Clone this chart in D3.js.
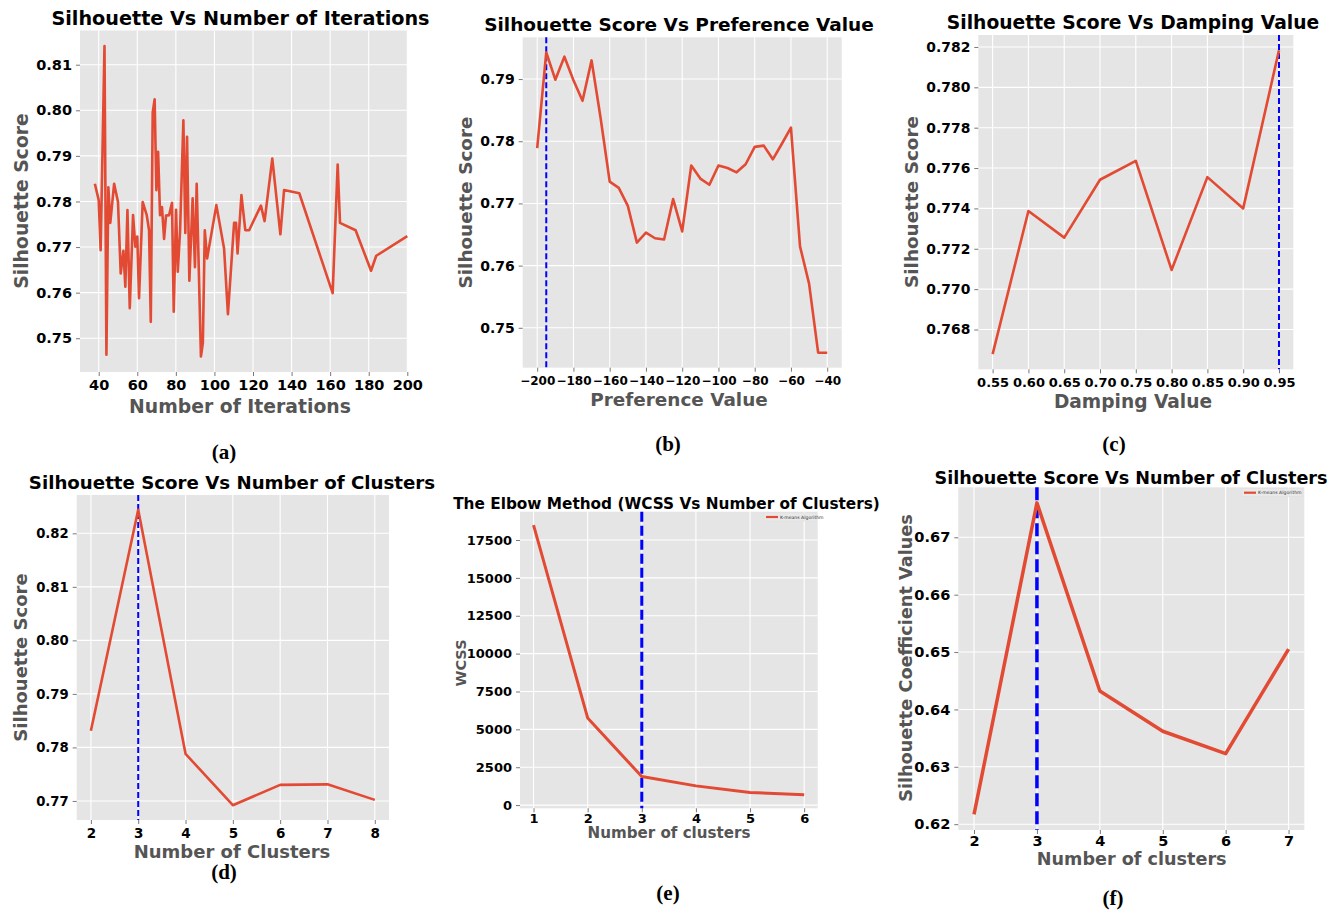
<!DOCTYPE html>
<html>
<head>
<meta charset="utf-8">
<script src="https://cdn.jsdelivr.net/npm/d3@7"></script>
<style>
  html, body { margin: 0; padding: 0; background: #ffffff; }
  svg { display: block; }
  text { font-family: "DejaVu Sans", sans-serif; }
  text.tag { font-family: "Liberation Serif", "Times New Roman", serif; }
</style>
</head>
<body>
<svg id="fig" width="1342" height="912"></svg>
<script>
// ---------- data ----------
// (a) silhouette score against number of iterations
const iterX = [38, 40, 41, 43, 44, 45, 46, 48, 50, 51.4, 52.8, 53.8, 54.9, 56.1, 57.8, 59, 60, 60.9, 62.8, 64.9,
  66.1, 67, 68, 69, 69.9, 70.8, 71.8, 72.8, 73.9, 74.9, 76.5, 78, 78.9, 80.1, 81, 82.2, 83.9, 84.9, 85.8, 87,
  88.7, 89.9, 90.8, 93, 94, 95, 96.2, 101, 105, 107, 110.2, 111.2, 112, 114, 116, 118, 124.1, 126, 130, 134.2,
  136.1, 144, 161.3, 163.9, 165.1, 173.2, 181.2, 183.9, 200];
const iterScore = [0.7839, 0.7803, 0.7693, 0.8141, 0.7464, 0.7831, 0.7753, 0.7839, 0.7799, 0.7642, 0.7692, 0.7613,
  0.7781, 0.7566, 0.7770, 0.7701, 0.7723, 0.7588, 0.7799, 0.7770, 0.7737, 0.7536, 0.7996, 0.8024, 0.7825, 0.7909,
  0.7770, 0.7788, 0.7718, 0.7769, 0.7770, 0.7797, 0.7558, 0.7782, 0.7646, 0.7737, 0.7978, 0.7731, 0.7942, 0.7626,
  0.7807, 0.7656, 0.7839, 0.7460, 0.7490, 0.7737, 0.7675, 0.7792, 0.7697, 0.7553, 0.7753, 0.7753, 0.7686, 0.7814,
  0.7737, 0.7737, 0.7791, 0.7757, 0.7894, 0.7728, 0.7825, 0.7818, 0.7599, 0.7881, 0.7753, 0.7737, 0.7648, 0.7681,
  0.7724];

// (b) silhouette score against preference value
const prefX = [-200, -195, -190, -185, -180, -175, -170, -165, -160, -155, -150, -145, -140, -135, -130, -125, -120,
  -115, -110, -105, -100, -95, -90, -85, -80, -75, -70, -65, -60, -55, -50, -45, -40];
const prefScore = [0.7789, 0.7943, 0.7899, 0.7936, 0.7898, 0.7865, 0.7930, 0.7837, 0.7735, 0.7725, 0.7696, 0.7637,
  0.7653, 0.7644, 0.7642, 0.7707, 0.7655, 0.7761, 0.7740, 0.7730, 0.7761, 0.7757, 0.7750, 0.7763, 0.7791, 0.7793,
  0.7771, 0.7796, 0.7822, 0.7631, 0.7571, 0.7460, 0.7460];
const prefBest = -195;

// (c) silhouette score against damping value
const dampX = [0.55, 0.60, 0.65, 0.70, 0.75, 0.80, 0.85, 0.90, 0.95];
const dampScore = [0.76678, 0.77387, 0.77255, 0.77542, 0.77636, 0.77095, 0.77555, 0.77400, 0.78184];
const dampBest = 0.95;

// (d) silhouette score against number of clusters
const clustX = [2, 3, 4, 5, 6, 7, 8];
const clustScore = [0.7831, 0.8244, 0.7788, 0.7692, 0.7730, 0.7731, 0.7702];
const clustBest = 3;

// (e) elbow method
const elbowX = [1, 2, 3, 4, 5, 6];
const elbowWcss = [18480, 5754, 1881, 1269, 831, 678];
const elbowBest = 3;

// (f) k-means silhouette coefficient
const kmX = [2, 3, 4, 5, 6, 7];
const kmScore = [0.6217, 0.6760, 0.6432, 0.6362, 0.6323, 0.6505];
const kmBest = 3;

// tick values
const iterTicksX = [40, 60, 80, 100, 120, 140, 160, 180, 200];
const iterTicksY = [0.75, 0.76, 0.77, 0.78, 0.79, 0.80, 0.81];
const prefTicksX = [-200, -180, -160, -140, -120, -100, -80, -60, -40];
const prefTicksY = [0.75, 0.76, 0.77, 0.78, 0.79];
const dampTicksX = [0.55, 0.60, 0.65, 0.70, 0.75, 0.80, 0.85, 0.90, 0.95];
const dampTicksY = [0.768, 0.770, 0.772, 0.774, 0.776, 0.778, 0.780, 0.782];
const clustTicksX = [2, 3, 4, 5, 6, 7, 8];
const clustTicksY = [0.77, 0.78, 0.79, 0.80, 0.81, 0.82];
const elbowTicksX = [1, 2, 3, 4, 5, 6];
const elbowTicksY = [0, 2500, 5000, 7500, 10000, 12500, 15000, 17500];
const kmTicksX = [2, 3, 4, 5, 6, 7];
const kmTicksY = [0.62, 0.63, 0.64, 0.65, 0.66, 0.67];

// ---------- drawing ----------
const svg = d3.select("#fig");
const LINE = "#E24A33";
const BG = "#E5E5E5";
const minus = s => s.replace("-", "\u2212");

// padded extent, like a default plotting margin of 5%
function padded(vals, frac) {
  const [a, b] = d3.extent(vals);
  const p = (b - a) * frac;
  return [a - p, b + p];
}

function panel(o) {
  const g = svg.append("g");
  const x = d3.scaleLinear().domain(o.xDomain).range([o.left, o.right]);
  const y = d3.scaleLinear().domain(o.yDomain).range([o.bottom, o.top]);

  g.append("rect")
    .attr("x", o.left).attr("y", o.top)
    .attr("width", o.right - o.left).attr("height", o.bottom - o.top)
    .attr("fill", BG);

  // grid
  g.append("g").selectAll("line").data(o.xTicks).join("line")
    .attr("x1", d => x(d)).attr("x2", d => x(d))
    .attr("y1", o.top).attr("y2", o.bottom)
    .attr("stroke", "#ffffff").attr("stroke-width", 1.1);
  g.append("g").selectAll("line").data(o.yTicks).join("line")
    .attr("x1", o.left).attr("x2", o.right)
    .attr("y1", d => y(d)).attr("y2", d => y(d))
    .attr("stroke", "#ffffff").attr("stroke-width", 1.1);

  // axes
  const xa = g.append("g").attr("transform", `translate(0,${o.bottom})`)
    .call(d3.axisBottom(x).tickValues(o.xTicks).tickSize(4).tickPadding(o.xPad).tickFormat(o.xFmt));
  const ya = g.append("g").attr("transform", `translate(${o.left},0)`)
    .call(d3.axisLeft(y).tickValues(o.yTicks).tickSize(4).tickPadding(4).tickFormat(o.yFmt));
  [xa, ya].forEach(a => {
    a.select(".domain").remove();
    a.selectAll(".tick line").attr("stroke", "#555555").attr("stroke-width", 0.8);
    a.selectAll(".tick text").attr("fill", "#000000").attr("font-weight", "bold");
  });
  xa.selectAll(".tick text").attr("font-size", o.xFont);
  ya.selectAll(".tick text").attr("font-size", o.yFont);

  // best-value marker
  if (o.best !== undefined) {
    g.append("line")
      .attr("x1", x(o.best)).attr("x2", x(o.best))
      .attr("y1", o.top).attr("y2", o.bottom)
      .attr("stroke", "#0000FF").attr("stroke-width", o.dashW)
      .attr("stroke-dasharray", o.dash);
  }

  // series
  const pts = o.xs.map((v, i) => [v, o.ys[i]]);
  g.append("path")
    .datum(pts)
    .attr("d", d3.line().x(d => x(d[0])).y(d => y(d[1])))
    .attr("fill", "none").attr("stroke", LINE)
    .attr("stroke-width", o.lineW).attr("stroke-linejoin", "round");

  // legend
  if (o.legend) {
    const L = o.legend;
    g.append("rect").attr("x", L.x - 2).attr("y", L.y - 4).attr("width", L.w).attr("height", 8)
      .attr("fill", "#e9e9e9").attr("stroke", "#dddddd").attr("stroke-width", 0.4);
    g.append("line").attr("x1", L.x).attr("x2", L.x + 12).attr("y1", L.y).attr("y2", L.y)
      .attr("stroke", LINE).attr("stroke-width", 2.2);
    g.append("text").attr("x", L.x + 14).attr("y", L.y + 1.6)
      .attr("font-size", 4.6).attr("fill", "#333333").text("K-means Algorithm");
  }

  // title
  g.append("text").attr("x", o.title.x).attr("y", o.title.y)
    .attr("text-anchor", "middle").attr("font-weight", "bold")
    .attr("font-size", o.title.size).attr("fill", "#000000").text(o.title.text);

  // axis labels
  g.append("text").attr("x", o.xLabel.x).attr("y", o.xLabel.y)
    .attr("text-anchor", "middle").attr("font-weight", "bold")
    .attr("font-size", o.xLabel.size).attr("fill", "#555555").text(o.xLabel.text);
  g.append("text")
    .attr("transform", `translate(${o.yLabel.x},${o.yLabel.y}) rotate(-90)`)
    .attr("text-anchor", "middle").attr("font-weight", "bold")
    .attr("font-size", o.yLabel.size).attr("fill", "#555555").text(o.yLabel.text);

  // sub-figure tag
  g.append("text").attr("class", "tag").attr("x", o.tag.x).attr("y", o.tag.y)
    .attr("text-anchor", "middle").attr("font-weight", "bold")
    .attr("font-size", 21).attr("fill", "#000000").text(o.tag.text);
}

// (a)
panel({
  left: 80, right: 407.3, top: 30.5, bottom: 372,
  xs: iterX, ys: iterScore,
  xDomain: [30.3, 200], yDomain: padded(iterScore, 0.05),
  xTicks: iterTicksX, yTicks: iterTicksY,
  xFmt: d3.format("d"), yFmt: d3.format(".2f"),
  xFont: 14.5, yFont: 14.5, xPad: 4, lineW: 2.6,
  title: { x: 240.5, y: 25, size: 19.2, text: "Silhouette Vs Number of Iterations" },
  xLabel: { x: 240, y: 413, size: 18.8, text: "Number of Iterations" },
  yLabel: { x: 27.5, y: 201, size: 18.8, text: "Silhouette Score" },
  tag: { x: 224, y: 459, text: "(a)" }
});

// (b)
panel({
  left: 522.7, right: 841.7, top: 37.3, bottom: 367.7,
  xs: prefX, ys: prefScore,
  xDomain: padded(prefX, 0.05), yDomain: padded(prefScore, 0.05),
  xTicks: prefTicksX, yTicks: prefTicksY,
  xFmt: d => minus(d3.format("d")(d)), yFmt: d3.format(".2f"),
  xFont: 12, yFont: 14, xPad: 5, lineW: 2.6,
  best: prefBest, dashW: 2, dash: "6,3",
  title: { x: 679, y: 31, size: 18.5, text: "Silhouette Score Vs Preference Value" },
  xLabel: { x: 679, y: 406, size: 18.4, text: "Preference Value" },
  yLabel: { x: 471.5, y: 202.5, size: 18.4, text: "Silhouette Score" },
  tag: { x: 668, y: 451, text: "(b)" }
});

// (c)
panel({
  left: 978.3, right: 1293.3, top: 35, bottom: 369.3,
  xs: dampX, ys: dampScore,
  xDomain: padded(dampX, 0.05), yDomain: padded(dampScore, 0.05),
  xTicks: dampTicksX, yTicks: dampTicksY,
  xFmt: d3.format(".2f"), yFmt: d3.format(".3f"),
  xFont: 13, yFont: 13.9, xPad: 4.5, lineW: 2.6,
  best: dampBest, dashW: 2, dash: "6,3",
  title: { x: 1133, y: 29, size: 18.7, text: "Silhouette Score Vs Damping Value" },
  xLabel: { x: 1133, y: 407.5, size: 18.6, text: "Damping Value" },
  yLabel: { x: 917.5, y: 202, size: 18.4, text: "Silhouette Score" },
  tag: { x: 1114, y: 451, text: "(c)" }
});

// (d)
panel({
  left: 76.7, right: 389, top: 495, bottom: 820,
  xs: clustX, ys: clustScore,
  xDomain: padded(clustX, 0.05), yDomain: padded(clustScore, 0.05),
  xTicks: clustTicksX, yTicks: clustTicksY,
  xFmt: d3.format("d"), yFmt: d3.format(".2f"),
  xFont: 13.5, yFont: 13.2, xPad: 4, lineW: 2.6,
  best: clustBest, dashW: 2, dash: "6,3",
  title: { x: 232, y: 489, size: 18.2, text: "Silhouette Score Vs Number of Clusters" },
  xLabel: { x: 232, y: 858, size: 18, text: "Number of Clusters" },
  yLabel: { x: 26.5, y: 657.5, size: 18, text: "Silhouette Score" },
  tag: { x: 224, y: 879, text: "(d)" }
});

// (e)
panel({
  left: 520, right: 817.7, top: 511.7, bottom: 808.3,
  xs: elbowX, ys: elbowWcss,
  xDomain: padded(elbowX, 0.05), yDomain: padded(elbowWcss, 0.05),
  xTicks: elbowTicksX, yTicks: elbowTicksY,
  xFmt: d3.format("d"), yFmt: d3.format("d"),
  xFont: 13, yFont: 13, xPad: 1, lineW: 3,
  best: elbowBest, dashW: 3, dash: "10,4",
  legend: { x: 766, y: 517, w: 52 },
  title: { x: 666.5, y: 509, size: 15.3, text: "The Elbow Method (WCSS Vs Number of Clusters)" },
  xLabel: { x: 669, y: 838, size: 15.1, text: "Number of clusters" },
  yLabel: { x: 466, y: 663, size: 14.5, text: "WCSS" },
  tag: { x: 668, y: 900, text: "(e)" }
});

// (f)
panel({
  left: 958.3, right: 1304.3, top: 487.3, bottom: 830,
  xs: kmX, ys: kmScore,
  xDomain: padded(kmX, 0.05), yDomain: padded(kmScore, 0.05),
  xTicks: kmTicksX, yTicks: kmTicksY,
  xFmt: d3.format("d"), yFmt: d3.format(".2f"),
  xFont: 14.5, yFont: 14.6, xPad: 2, lineW: 3.5,
  best: kmBest, dashW: 3.5, dash: "13,5",
  legend: { x: 1244, y: 492.7, w: 60 },
  title: { x: 1131, y: 484, size: 17.6, text: "Silhouette Score Vs Number of Clusters" },
  xLabel: { x: 1131.7, y: 865, size: 17.6, text: "Number of clusters" },
  yLabel: { x: 912, y: 658, size: 17.7, text: "Silhouette Coefficient Values" },
  tag: { x: 1113, y: 905, text: "(f)" }
});
</script>
</body>
</html>
